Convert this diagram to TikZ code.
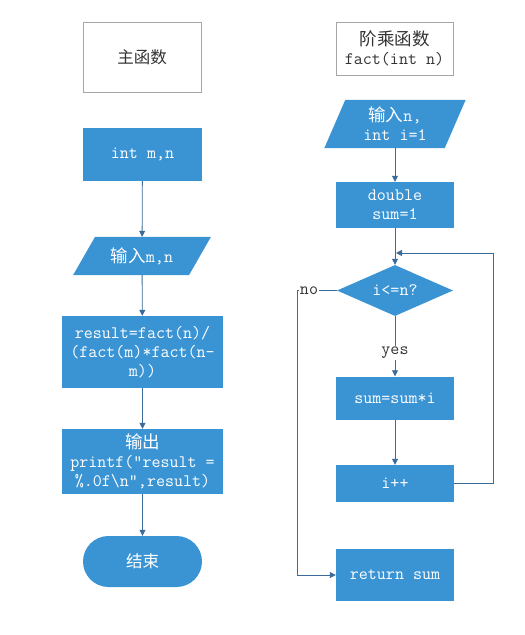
\documentclass[tikz,border=0pt]{standalone}
\usepackage{fontspec}
\newfontfamily\cjk{Noto Sans CJK SC}
\usetikzlibrary{shapes.geometric,arrows.meta,backgrounds}
\definecolor{boxblue}{HTML}{3A94D4}
\definecolor{linec}{HTML}{3B6C99}
\definecolor{grayb}{HTML}{A6A6A6}
\definecolor{txtc}{HTML}{333333}
\begin{document}
\begin{tikzpicture}[x=1pt,y=-1pt,
  every node/.style={font=\ttfamily\fontsize{17.5}{19}\selectfont, align=center, inner sep=2pt},
  cj/.style={font=\cjk\fontsize{16.5}{20}\selectfont},
  blk/.style={rectangle, fill=boxblue, text=white},
  title/.style={rectangle, draw=grayb, line width=0.7pt, fill=white, text=txtc},
  para/.style={rectangle, text=white},
  dec/.style={diamond, fill=boxblue, text=white, inner sep=0pt, aspect=2.27},
  term/.style={rectangle, rounded corners=25.5pt, fill=boxblue, text=white},
  lab/.style={fill=white, text=txtc, inner sep=1pt},
  arr/.style={draw=linec, line width=0.8pt, -{Triangle[length=6pt,width=6pt]}},
]
\useasboundingbox (0,0) rectangle (525,635);

% left column
\node[title, minimum width=118pt, minimum height=70pt, cj] (main) at (142,57) {主函数};
\node[blk, minimum width=119pt, minimum height=53pt] (decl) at (142.5,154.5) {int m,n};
\node[para, minimum width=115.5pt, minimum height=38pt] (in1) at (142,256) {{\cjk 输入}m,n};
\node[blk, minimum width=161pt, minimum height=72pt] (res) at (142.5,352) {result=fact(n)/\\(fact(m)*fact(n-\\m))};
\node[blk, minimum width=161pt, minimum height=65pt] (out) at (142.5,461.5) {{\cjk 输出}\\printf(”result =\\\%.0f\textbackslash n”,result)};
\node[term, minimum width=119pt, minimum height=51pt, cj] (fin) at (142.5,561.5) {结束};

% right column
\node[title, minimum width=117pt, minimum height=53pt] (ftit) at (394.5,48.5) {{\cjk 阶乘函数}\\fact(int n)};
\node[para, minimum width=120pt, minimum height=48pt] (in2) at (395,124) {{\cjk 输入}n,\\int i=1};
\node[blk, minimum width=118pt, minimum height=46pt] (dbl) at (395,205) {double\\sum=1};
\node[dec, minimum width=116pt, minimum height=51pt] (dia) at (395,290.5) {i<=n?};
\node[blk, minimum width=118pt, minimum height=43pt] (mul) at (395,398) {sum=sum*i};
\node[blk, minimum width=118pt, minimum height=37pt] (inc) at (395,483.5) {i++};
\node[blk, minimum width=118pt, minimum height=52pt] (ret) at (395,575) {return sum};

\begin{pgfonlayer}{background}
\fill[white] (0,0) rectangle (525,635);
\fill[boxblue] ([xshift=11pt]in1.north west) -- ([xshift=11pt]in1.north east) -- ([xshift=-11pt]in1.south east) -- ([xshift=-11pt]in1.south west) -- cycle;
\fill[boxblue] ([xshift=10.5pt]in2.north west) -- ([xshift=10.5pt]in2.north east) -- ([xshift=-10.5pt]in2.south east) -- ([xshift=-10.5pt]in2.south west) -- cycle;
\end{pgfonlayer}

\coordinate (lpr) at (493,253);
\coordinate (lpe) at (396,253);
\coordinate (noc) at (297,290.5);

\draw[arr] (decl) -- (in1);
\draw[arr] (in1) -- (res);
\draw[arr] (res) -- (out);
\draw[arr] (out) -- (fin);
\draw[arr] (in2) -- (dbl);
\draw[arr] (dbl) -- (dia);
\draw[arr] (dia) -- (mul);
\draw[arr] (mul) -- (inc);
\draw[arr] (inc.east) -| (lpr) -- (lpe);
\draw[arr] (dia.west) -- (noc) |- (ret.west);

\node[lab] (yes) at (395,353) {yes};
\node[lab] (no) at (309,290.5) {no};
\end{tikzpicture}
\end{document}
